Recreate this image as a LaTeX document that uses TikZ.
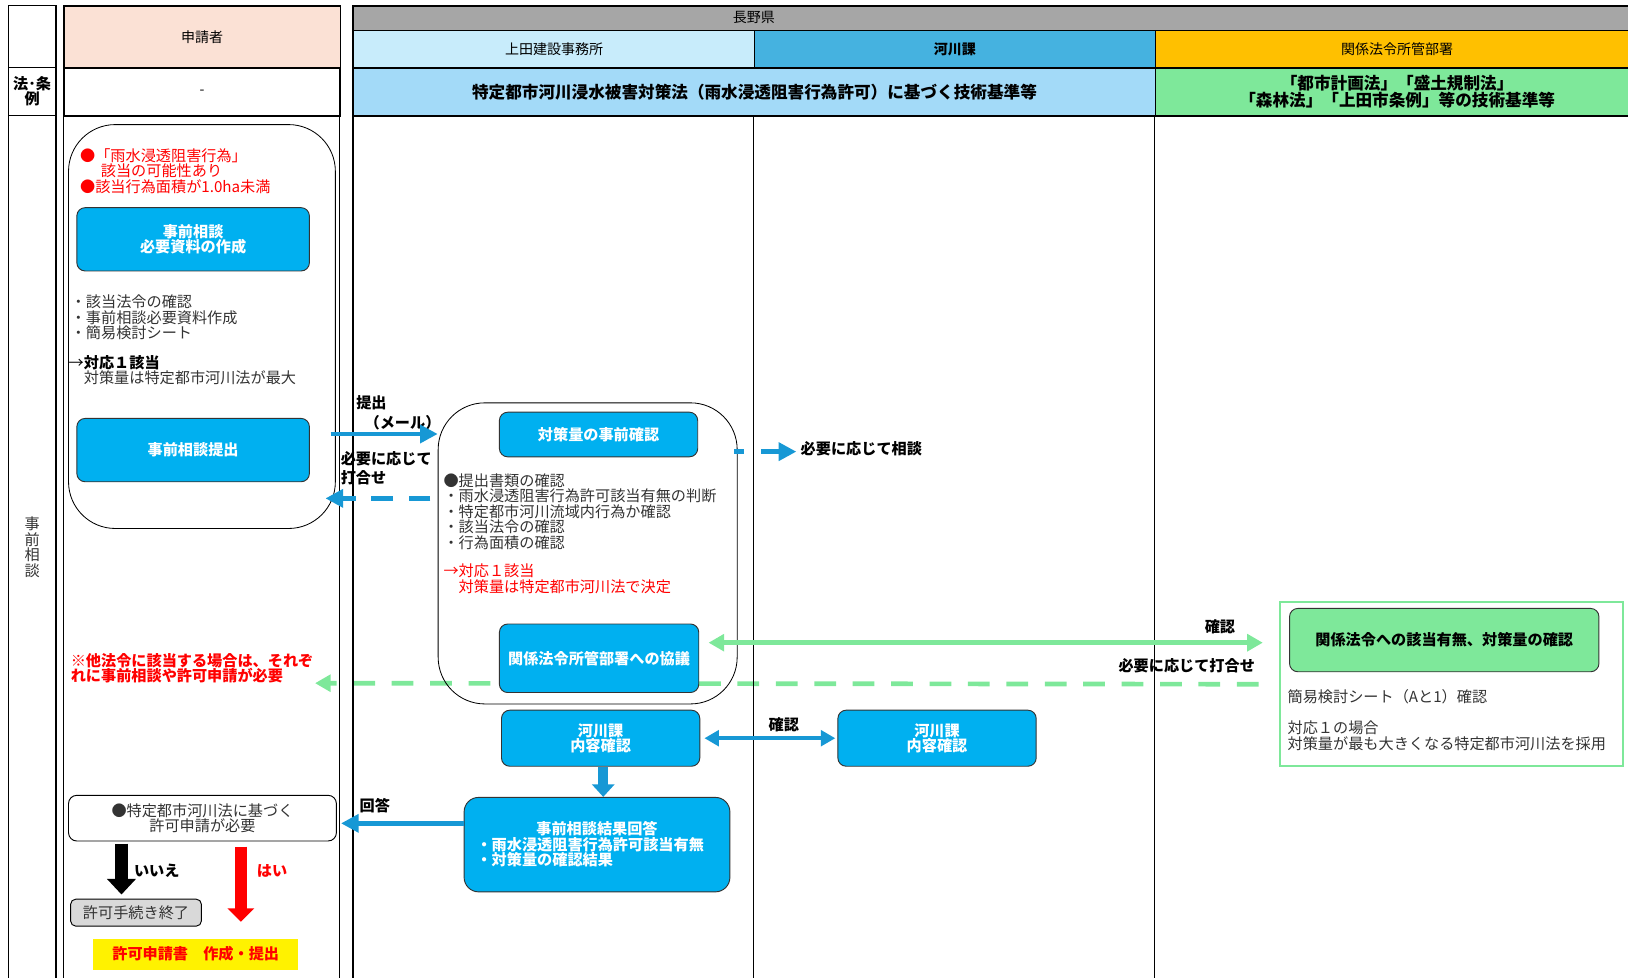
\documentclass[tikz,border=0pt]{standalone}
\usepackage{fontspec}
\setmainfont{Noto Sans CJK JP}
\usepackage{tikz}
\usetikzlibrary{calc,arrows.meta,backgrounds}
\definecolor{peach}{HTML}{FBE1D5}
\definecolor{prefgray}{HTML}{A6A6A6}
\definecolor{uedablue}{HTML}{C8ECFB}
\definecolor{kasenblue}{HTML}{45B2E0}
\definecolor{kankeiorange}{HTML}{FFC000}
\definecolor{lawblue}{HTML}{A3DAF8}
\definecolor{lawgreen}{HTML}{7EE89A}
\definecolor{boxblue}{HTML}{00B0F0}
\definecolor{flowblue}{HTML}{1798D5}
\definecolor{txtgray}{HTML}{333333}
\newcommand{\bodyfont}{\fontsize{14.6pt}{14.9pt}\selectfont}
\tikzset{
    lane/.style={
        draw,
        line width=1.3pt
    },
    lanehead/.style={
        draw,
        line width=1.3pt,
        anchor=north west,
        inner sep=0pt,
        font=\fontsize{13.5pt}{15pt}\selectfont
    },
    lawhead/.style={
        lanehead,
        align=center,
        font=\fontsize{16pt}{16.5pt}\selectfont\bfseries
    },
    group/.style={
        draw,
        line width=0.8pt,
        rounded corners=45pt
    },
    bluebox/.style={
        draw=black!80,
        line width=0.9pt,
        fill=boxblue,
        rounded corners=8pt,
        text=white,
        align=center,
        font=\bodyfont\bfseries
    },
    note/.style={
        anchor=north west,
        align=left,
        inner sep=0pt,
        text=txtgray,
        font=\bodyfont
    },
    tag/.style={
        inner sep=0pt,
        align=left,
        font=\bodyfont\bfseries
    },
    flow/.style={
        flowblue,
        line width=4.5pt,
        -{Triangle[length=17pt,width=17pt]}
    },
    gflow/.style={
        lawgreen,
        line width=4.5pt
    }
}

\begin{document}
\begin{tikzpicture}[x=1pt,y=-1pt]
    \useasboundingbox (0,0) rectangle (1568,941);

    % lanes
    \draw[lane] (8,5) rectangle (54,960);
    \draw[lane] (61,5) rectangle (327,960);
    \draw[lane] (340,5) rectangle (1580,960);
    \draw[lane] (8,65) -- (54,65) (8,111) -- (54,111);
    \draw[lane] (726,111) -- (726,960) (1112,111) -- (1112,960);

    % headers
    \node (hApp) [lanehead,fill=peach,minimum width=266,minimum height=60] at (61,5) {申請者};
    \node (hPref) [lanehead,fill=prefgray,minimum width=1240,minimum height=24] at (340,5) {};
    \node (tPref) [font=\fontsize{13.5pt}{15pt}\selectfont] at (726,17) {長野県};
    \node (hUeda) [lanehead,fill=uedablue,minimum width=386,minimum height=36] at (340,29) {上田建設事務所};
    \node (hKasen) [lanehead,fill=kasenblue,minimum width=386,minimum height=36,
        font=\fontsize{13.5pt}{15pt}\selectfont\bfseries] at (726,29) {河川課};
    \node (hKankei) [lanehead,fill=kankeiorange,minimum width=466,minimum height=36] at (1112,29) {関係法令所管部署};

    % law row
    \node (lawHead) [tag,align=center] at (31,88) {法･条\\例};
    \node (lawApp) [lanehead,minimum width=266,minimum height=46] at (61,65) {-};
    \node (lawRiver) [lawhead,fill=lawblue,minimum width=772,minimum height=46] at (340,65)
        {特定都市河川浸水被害対策法（雨水浸透阻害行為許可）に基づく技術基準等};
    \node (lawOther) [lawhead,fill=lawgreen,minimum width=466,minimum height=46] at (1112,65)
        {「都市計画法」「盛土規制法」\\「森林法」「上田市条例」等の技術基準等};
    \node (stage) [font=\bodyfont,text=txtgray,align=center] at (31,527) {事\\前\\相\\談};

    %% applicant
    \node (gApp) [group,minimum width=257,minimum height=389] at (194.5,314.5) {};
    \node (nCase) [note,text=red] at (77,143) {●「雨水浸透阻害行為」\\\hspace{20pt}該当の可能性あり\\●該当行為面積が1.0ha未満};
    \node (bPrep) [bluebox,minimum width=224,minimum height=61] at (186,230.5) {事前相談\\必要資料の作成};
    \node (nPrep) [note] at (68,284) {・該当法令の確認\\・事前相談必要資料作成\\・簡易検討シート};
    \node (nCase1) [note,text=black] at (66,342) {→\textbf{対応１該当}\\\textcolor{txtgray}{　対策量は特定都市河川法が最大}};
    \node (bSubmit) [bluebox,minimum width=224,minimum height=61] at (186,433.5) {事前相談提出};

    %% Ueda office
    \node (gPref) [group,minimum width=288,minimum height=290] at (566,533) {};
    \node (bCheck) [bluebox,minimum width=191,minimum height=43] at (576.5,418.5) {対策量の事前確認};
    \node (nCheck) [note] at (427,456) {●提出書類の確認\\・雨水浸透阻害行為許可該当有無の判断\\・特定都市河川流域内行為か確認\\・該当法令の確認\\・行為面積の確認};
    \node (nCase2) [note,text=red] at (427,543) {→対応１該当\\　対策量は特定都市河川法で決定};
    \node (bConsult) [bluebox,minimum width=192,minimum height=66] at (577,634) {関係法令所管部署への協議};

    %% other departments
    \node (gOther) [draw=lawgreen,line width=1.5pt,minimum width=330,minimum height=158] at (1398,659) {};
    \node (bOther) [bluebox,fill=lawgreen,text=black,minimum width=298,minimum height=61] at (1391,616.5) {関係法令への該当有無、対策量の確認};
    \node (nOther) [note] at (1240,664) {簡易検討シート（Aと1）確認\\[14.9pt]対応１の場合\\対策量が最も大きくなる特定都市河川法を採用};

    %% river section check
    \node (bKasenL) [bluebox,minimum width=191,minimum height=54] at (578.5,711) {河川課\\内容確認};
    \node (bKasenR) [bluebox,minimum width=191,minimum height=54] at (902.5,711) {河川課\\内容確認};
    \node (bReply) [bluebox,align=left,text width=232,minimum width=256,minimum height=91,rounded corners=14pt] at (575,813.5)
        {\hfill 事前相談結果回答\hfill\null\\・雨水浸透阻害行為許可該当有無\\・対策量の確認結果};

    %% result
    \node (bApply) [draw,rounded corners=8pt,fill=white,line width=0.9pt,align=center,minimum width=258,minimum height=44,
        font=\bodyfont,text=txtgray] at (195,788) {●特定都市河川法に基づく\\許可申請が必要};
    \node (bEnd) [draw,fill=black!15,rounded corners=5pt,line width=0.9pt,minimum width=126,minimum height=26,inner sep=0pt,
        font=\bodyfont,text=txtgray] at (131,879) {許可手続き終了};
    \node (bYes) [fill=yellow,minimum width=197,minimum height=30,font=\bodyfont\bfseries,text=red] at (188.5,919) {許可申請書　作成・提出};

    % labels
    \node (tSubmit) [tag,anchor=north west] at (343,381) {提出\\[4pt]\hspace{8pt}（メール）};
    \node (tMeet) [tag,anchor=north west] at (328,435) {必要に応じて\\[3pt]打合せ};
    \node (tAsk) [tag,anchor=west] at (771,432) {必要に応じて相談};
    \node (tConf) [tag] at (1175,604) {確認};
    \node (tMeet2) [tag] at (1143,641) {必要に応じて打合せ};
    \node (nOtherLaw) [tag,text=red,anchor=north west] at (68,629) {※他法令に該当する場合は、それぞ\\れに事前相談や許可申請が必要};
    \node (tConf2) [tag] at (755,698) {確認};
    \node (tReply) [tag] at (361,776) {回答};
    \node (tNo) [tag] at (151,839) {いいえ};
    \node (tYes) [tag,text=red] at (262,839) {はい};

    %% arrows
    \draw[flow] ($(bSubmit.east)+(20,-15.5)$) -- ($(gPref.west)+(0,-115)$);
    \draw[flow,dash pattern=on 21pt off 15pt] ($(gPref.west)+(-7,-53)$) -- ($(bSubmit.east)+(15,46.5)$);
    \draw[flow,dash pattern=on 9pt off 17pt on 60pt] ($(gPref.east)+(-3,-98)$) -- ($(tAsk.west)+(-4,3)$);
    \draw[gflow,{Triangle[length=15pt,width=16pt]}-{Triangle[length=15pt,width=16pt]}]
        ($(bConsult.east)+(9,-15)$) -- ($(gOther.west)+(-16,-40)$);
    \begin{pgfonlayer}{background}
        \draw[gflow,dash pattern=on 21pt off 16pt,-{Triangle[length=15pt,width=16pt]}]
            ($(gOther.west)+(-20,0)$) -- ($(gApp.east |- gOther.west)+(-20,-1)$);
    \end{pgfonlayer}
    \draw[flow,line width=4pt,{Triangle[length=14pt,width=15pt]}-{Triangle[length=14pt,width=15pt]},
        shorten <=4pt,shorten >=2pt] (bKasenL) -- (bKasenR);
    \draw[flow,line width=10pt,-{Triangle[length=12pt,width=21pt]}] ($(bKasenL.south)+(2.5,0)$) -- ($(bKasenL.south |- bReply.north)+(2.5,0)$);
    \draw[flow] ($(bReply.west)+(0,-20.5)$) -- ($(bApply.east)+(4,5)$);
    \draw[line width=12.5pt,-{Triangle[length=15pt,width=27pt]}] ($(bApply.south)+(-78,2)$) -- ($(bEnd.north)+(-14,-4)$);
    \draw[red,line width=12pt,-{Triangle[length=13pt,width=25pt]}] ($(bApply.south)+(37,5)$) -- ($(bYes.north)+(43.5,-16)$);

\end{tikzpicture}
\end{document}
